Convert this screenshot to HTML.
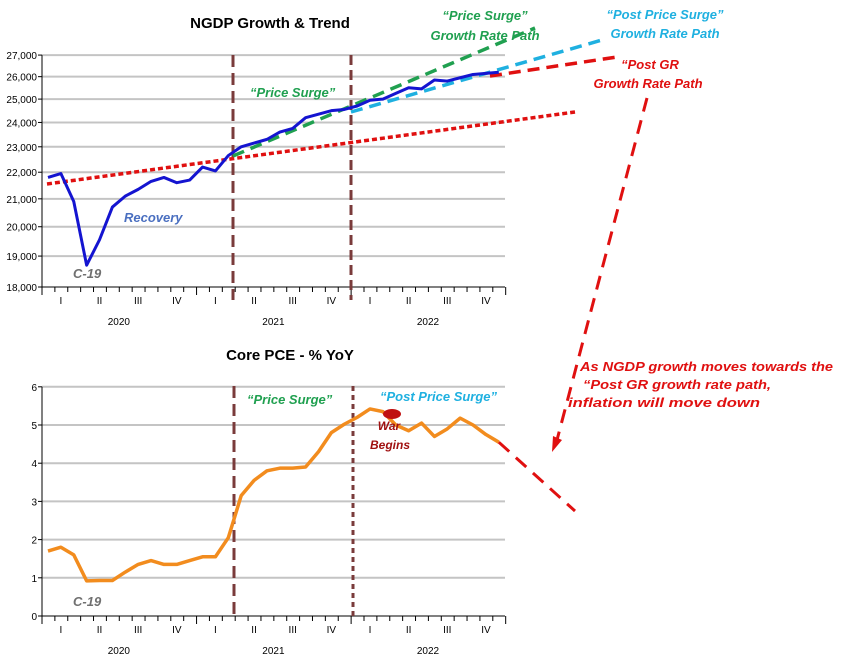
<!DOCTYPE html>
<html><head><meta charset="utf-8"><style>
body{margin:0;background:#fff;width:846px;height:657px;overflow:hidden}
svg{font-family:"Liberation Sans",sans-serif}
.ann{font-family:"Liberation Sans",sans-serif;font-style:italic;font-weight:bold}
</style></head><body>
<svg id="c" width="846" height="657" xmlns="http://www.w3.org/2000/svg"></svg>
<script>
const months = 36;
const ngdp = [21800,21950,20900,18700,19550,20700,21100,21350,21650,21800,21600,21700,22200,22050,22650,23000,23150,23300,23600,23750,24200,24350,24500,24550,24700,24950,25000,25250,25500,25450,25850,25800,25950,26100,26150,26200];
const pce = [1.7,1.8,1.6,0.92,0.93,0.93,1.15,1.35,1.45,1.35,1.35,1.45,1.55,1.55,2.05,3.15,3.55,3.8,3.87,3.87,3.9,4.3,4.8,5.02,5.2,5.42,5.35,5.0,4.85,5.05,4.7,4.9,5.18,5.0,4.75,4.55];
const topTicks = [18000,19000,20000,21000,22000,23000,24000,25000,26000,27000];
const botTicks = [0,1,2,3,4,5,6];
const quarters = ["I","II","III","IV"];
const years = ["2020","2021","2022"];

const svg = document.getElementById('c');
const NS='http://www.w3.org/2000/svg';
function el(tag, attrs, parent){const e=document.createElementNS(NS,tag);for(const k in attrs)e.setAttribute(k,attrs[k]);(parent||svg).appendChild(e);return e;}
const X0=42, XE=505, step=12.88;
const xm = i => 48 + step*i;
const yTop = v => 287 - 572*Math.log(v/18000);
const yBot = v => 616 - 38.2*v;

function axis(yAxisFn, ticks, fmt, yBase, g){
  ticks.forEach(t=>{
    const y=yAxisFn(t);
    if(t!==ticks[0]){const gl=el('line',{x1:X0,x2:XE,y1:y,y2:y,stroke:'#c4c4c4','stroke-width':2},g);
      }
    const tk=el('line',{x1:X0-4,x2:X0,y1:y,y2:y,stroke:'#000'},g);
    
    const tx=el('text',{x:X0-5,y:y+4,'text-anchor':'end','font-size':10},g);
    
    tx.textContent=fmt(t);
  });
  const ya=el('line',{x1:X0,x2:X0,y1:yAxisFn(ticks[ticks.length-1]),y2:yBase,stroke:'#000'},g);
  
  const xa=el('line',{x1:X0,x2:XE,y1:yBase,y2:yBase,stroke:'#000'},g);
  
  for(let i=0;i<=months;i++){
    const x=X0+step*i;
    const t=el('line',{x1:x,x2:x,y1:yBase,y2:yBase+(i%12===0?8:5),stroke:'#000'},g);
    
  }
  for(let q=0;q<12;q++){
    const t=el('text',{x:xm(q*3+1),y:yBase+17,'text-anchor':'middle','font-size':10},g);
    
    t.textContent=quarters[q%4];
  }
  years.forEach((yr,k)=>{
    const t=el('text',{x:xm(k*12+5.5),y:yBase+38,'text-anchor':'middle','font-size':10},g);
    
    t.textContent=yr;
  });
}
function vline(x,y1,y2,dash,g){const l=el('line',{x1:x,x2:x,y1:y1,y2:y2,stroke:'#7a3b3b','stroke-width':3,'stroke-dasharray':dash},g);
  }
function text(x,y,s,color,size,name,anchor){const t=el('text',{x:x,y:y,fill:color,'font-size':size,class:'ann','text-anchor':anchor||'start'});
  t.textContent=s;return t;}
function seg(x1,y1,x2,y2,color,w,dash,name,g){const l=el('line',{x1,y1,x2,y2,stroke:color,'stroke-width':w,'stroke-dasharray':dash},g);
  }
function fit(t,len){t.setAttribute('textLength',len);t.setAttribute('lengthAdjust','spacingAndGlyphs');}

// TOP CHART
const gt=el('g',{});
axis(yTop,topTicks,v=>v.toLocaleString('en-US'),287,gt);
vline(233,55,300,'12,6',gt);vline(351,55,300,'10,5',gt);
const tt=el('text',{x:270,y:28,'text-anchor':'middle','font-size':15,'font-weight':'bold'},gt);
tt.textContent='NGDP Growth & Trend';
seg(47,184,575,112,'#e01010',3.5,'5,3','pre-trend-line',gt);
seg(233,156,535,28,'#20a050',3.5,'12,7','price-surge-path',gt);
seg(351,112,602,40,'#1fb0e0',3.5,'12,7','post-surge-path',gt);
seg(490,76,617,57,'#e01010',3.5,'12,7','post-gr-path',gt);
const pt=el('polyline',{points:ngdp.map((v,i)=>xm(i)+','+yTop(v)).join(' '),fill:'none',stroke:'#1414d0','stroke-width':3,'stroke-linejoin':'round'},gt);

text(124,222,'Recovery','#4a6fc0',13,'recovery-label');
text(73,278,'C-19','#707070',13,'c19-label-top');
text(250,97,'\u201cPrice Surge\u201d','#20a050',13,'price-surge-label');
text(485,20,'\u201cPrice Surge\u201d','#20a050',13,'price-surge-path-label','middle');
text(485,40,'Growth Rate Path','#20a050',13,'price-surge-path-label-2','middle');
text(665,19,'\u201cPost Price Surge\u201d','#1fb0e0',13,'post-surge-path-label','middle');
text(665,38,'Growth Rate Path','#1fb0e0',13,'post-surge-path-label-2','middle');
text(650,69,'\u201cPost GR','#e01010',13,'post-gr-label','middle');
text(648,88,'Growth Rate Path','#e01010',13,'post-gr-label-2','middle');
seg(647,98,557,440,'#e01010',3,'14,9','arrow-line');
const ah=el('polygon',{points:'552,452 553,436 562,440',fill:'#e01010'});

fit(text(580,371,'As NGDP growth moves towards the','#e01010',13,'note-line-1'),253);
fit(text(583,389,'\u201cPost GR growth rate path,','#e01010',13,'note-line-2'),188);
fit(text(568,407,'inflation will move down','#e01010',13,'note-line-3'),192);

// BOTTOM CHART
const gb=el('g',{});
axis(yBot,botTicks,v=>String(v),616,gb);
vline(234,386,616,'12,6',gb);vline(353,386,616,'5,4',gb);
const bt=el('text',{x:290,y:360,'text-anchor':'middle','font-size':15,'font-weight':'bold'},gb);
bt.textContent='Core PCE - % YoY';
seg(xm(35),yBot(pce[35]),575,511,'#e01010',3,'14,9','pce-projection');
const pb=el('polyline',{points:pce.map((v,i)=>xm(i)+','+yBot(v)).join(' '),fill:'none',stroke:'#f28c1e','stroke-width':3.5,'stroke-linejoin':'round'},gb);

const dot=el('ellipse',{cx:392,cy:414,rx:9,ry:5,fill:'#c01010'},gb);

text(247,404,'\u201cPrice Surge\u201d','#20a050',13,'price-surge-label-bottom');
text(380,401,'\u201cPost Price Surge\u201d','#1fb0e0',13,'post-surge-label-bottom');
text(389,430,'War','#a01010',12,'war-label','middle');
text(390,449,'Begins','#a01010',12,'begins-label','middle');
text(73,606,'C-19','#707070',13,'c19-label-bottom');
</script>
</body></html>
